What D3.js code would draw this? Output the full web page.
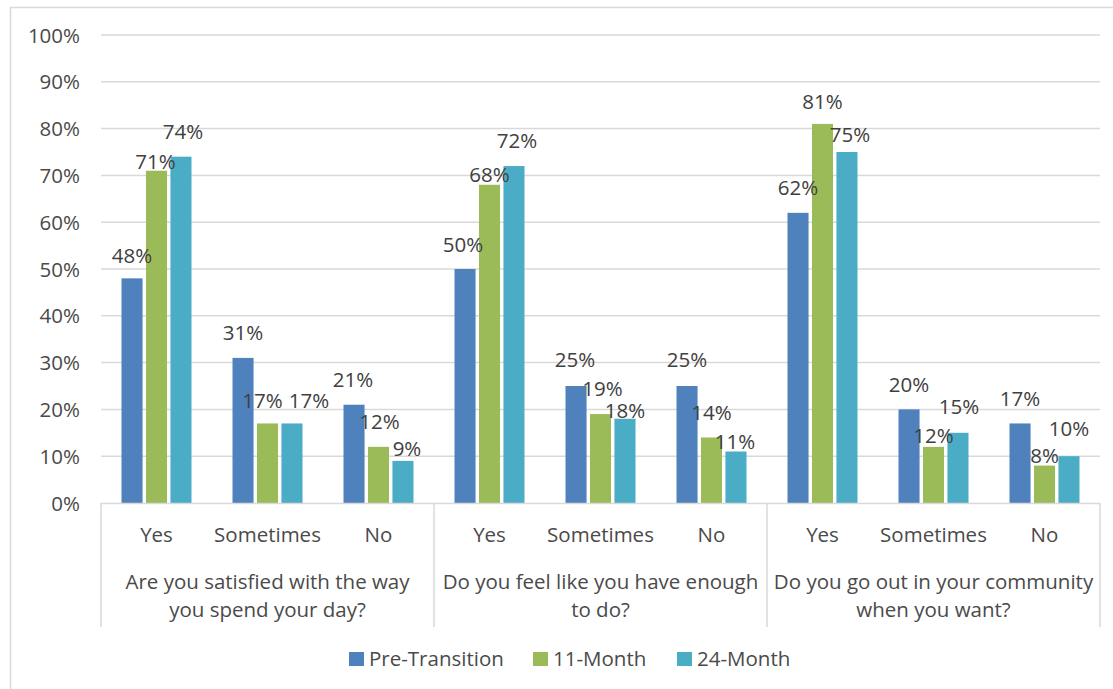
<!DOCTYPE html>
<html>
<head>
<meta charset="utf-8">
<script src="https://cdn.jsdelivr.net/npm/d3@7/dist/d3.min.js"></script>
<style>
  html, body { margin: 0; padding: 0; background: #ffffff; }
  svg { display: block; }
  text { font-family: "Open Sans", "DejaVu Sans", sans-serif; fill: #4a4a4a; }
</style>
</head>
<body>
<svg id="chart" width="1113" height="689"></svg>
<script>
// ---- Data ----
const questions = [
  "Are you satisfied with the way\nyou spend your day?",
  "Do you feel like you have enough\nto do?",
  "Do you go out in your community\nwhen you want?"
];
const answers = ["Yes", "Sometimes", "No"];
const seriesNames = ["Pre-Transition", "11-Month", "24-Month"];
const preTransition = [48, 31, 21, 50, 25, 25, 62, 20, 17];
const month11 = [71, 17, 12, 68, 19, 14, 81, 12, 8];
const month24 = [74, 17, 9, 72, 18, 11, 75, 15, 10];
const yTicks = [0, 10, 20, 30, 40, 50, 60, 70, 80, 90, 100];

// ---- Styling / layout (not data) ----
const colors = ["#4f81bd", "#9bbb59", "#4bacc6"];
const fontSize = 20.5;
// label nudges [dx, dy] relative to bar centre / bar top, per bar (matches reference placement)
const labelNudges = [
  [[0,-23],[-1,-9],[2,-25]], [[0,-25],[-5,-23],[17,-23]], [[-1,-25],[1,-25],[4,-12]],
  [[-2,-24],[0,-10],[3,-25]], [[-1,-26],[2,-25],[0,-8]], [[0,-26],[0,-25],[-1,-10]],
  [[0,-25],[0,-22],[3,-17]], [[0,-25],[0,-11],[1,-26]], [[0,-25],[0,-10],[0,-27]]
];

const seriesValues = [preTransition, month11, month24];
const slots = [];
questions.forEach((q, qi) => answers.forEach((a, ai) => slots.push({ key: qi + "-" + ai, q: qi, a: ai, answer: a })));

const svg = d3.select("#chart");
const plotLeft = 101, plotRight = 1100, plotTop = 35, plotBottom = 503;

// outer border
svg.append("rect")
  .attr("x", 10.5).attr("y", 7.5).attr("width", 1110).attr("height", 700)
  .attr("fill", "none").attr("stroke", "#d9d9d9").attr("stroke-width", 1.5);

const y = d3.scaleLinear().domain([0, 100]).range([plotBottom, plotTop]);
const x0 = d3.scaleBand().domain(slots.map(d => d.key)).range([plotLeft, plotRight]).paddingInner(0).paddingOuter(0);
const x1 = d3.scaleBand().domain(seriesNames).range([20.5, 90.5]).paddingInner(0.14);
const xq = d3.scaleBand().domain(questions).range([plotLeft, plotRight]);

// gridlines
svg.append("g").selectAll("line").data(yTicks.filter(t => t > 0)).join("line")
  .attr("x1", plotLeft).attr("x2", plotRight)
  .attr("y1", d => y(d)).attr("y2", d => y(d))
  .attr("stroke", "#d9d9d9").attr("stroke-width", 1.5);

// y axis labels
const yAxis = d3.axisLeft(y).tickValues(yTicks).tickFormat(d => d + "%").tickSize(0).tickPadding(0);
const yg = svg.append("g").attr("transform", "translate(80,0)").call(yAxis);
yg.select(".domain").remove();
yg.selectAll("text").attr("font-size", fontSize).attr("fill", "#4a4a4a")
  .style("font-family", "'Open Sans', sans-serif").attr("dy", "0.35em");

// bars
const barData = [];
slots.forEach((s, i) => seriesNames.forEach((name, si) => {
  barData.push({ slot: s, series: name, si, value: seriesValues[si][i], nudge: labelNudges[i][si] });
}));

svg.append("g").selectAll("rect").data(barData).join("rect")
  .attr("x", d => x0(d.slot.key) + x1(d.series))
  .attr("y", d => y(d.value))
  .attr("width", x1.bandwidth())
  .attr("height", d => y(0) - y(d.value))
  .attr("fill", d => colors[d.si]);

// data labels
svg.append("g").selectAll("text").data(barData).join("text")
  .attr("x", d => x0(d.slot.key) + x1(d.series) + x1.bandwidth() / 2 + d.nudge[0])
  .attr("y", d => y(d.value) + d.nudge[1])
  .attr("dy", "0.35em")
  .attr("text-anchor", "middle")
  .attr("font-size", fontSize)
  .style("fill", "#404040")
  .text(d => d.value + "%");

// category axis baseline
svg.append("line").attr("x1", plotLeft).attr("x2", plotRight)
  .attr("y1", plotBottom + 0.5).attr("y2", plotBottom + 0.5)
  .attr("stroke", "#d9d9d9").attr("stroke-width", 1.5);

// group separators
const sepX = questions.map(q => xq(q)).concat([plotRight]);
svg.append("g").selectAll("line").data(sepX).join("line")
  .attr("x1", d => d).attr("x2", d => d)
  .attr("y1", plotBottom).attr("y2", 627)
  .attr("stroke", "#d9d9d9").attr("stroke-width", 1.5);

// answer labels
svg.append("g").selectAll("text").data(slots).join("text")
  .attr("x", d => x0(d.key) + x0.bandwidth() / 2)
  .attr("y", 535).attr("dy", "0.35em")
  .attr("text-anchor", "middle").attr("font-size", fontSize)
  .text(d => d.answer);

// question labels
const qg = svg.append("g").selectAll("text").data(questions).join("text")
  .attr("x", d => xq(d) + xq.bandwidth() / 2)
  .attr("y", 582).attr("text-anchor", "middle").attr("font-size", fontSize);
qg.selectAll("tspan").data(d => d.split("\n").map(line => ({ line, q: d }))).join("tspan")
  .attr("x", d => xq(d.q) + xq.bandwidth() / 2)
  .attr("dy", (d, i) => i === 0 ? "0.35em" : 28)
  .text(d => d.line);

// legend
const legendX = [349, 533, 677];
const lg = svg.append("g").selectAll("g").data(seriesNames).join("g")
  .attr("transform", (d, i) => `translate(${legendX[i]},652)`);
lg.append("rect").attr("width", 15).attr("height", 14).attr("fill", (d, i) => colors[i]);
lg.append("text").attr("x", 20).attr("y", 7).attr("dy", "0.35em").attr("font-size", fontSize).text(d => d);
</script>
</body>
</html>
